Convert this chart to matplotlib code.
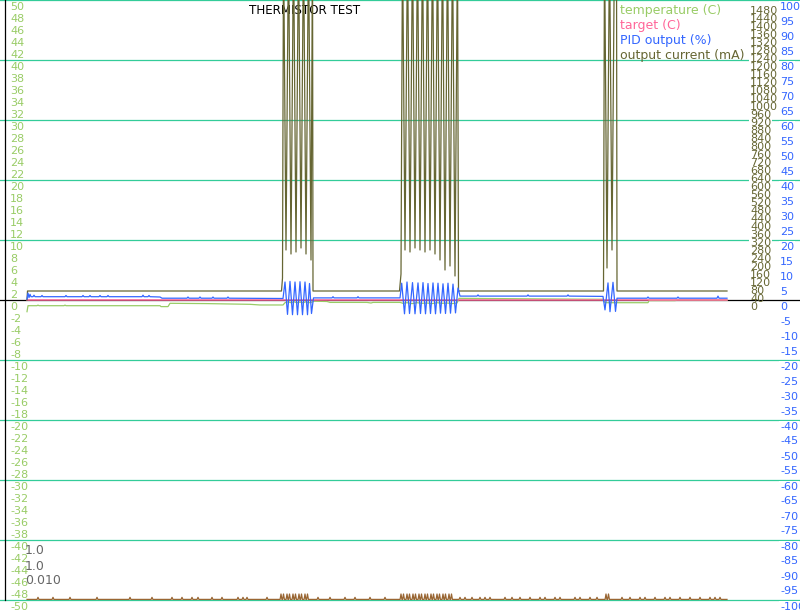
import matplotlib
matplotlib.use("Agg")
import matplotlib.pyplot as plt
import matplotlib.transforms as mtrans

# time axis: samples (0..700)
temp_t = [0, 1, 10, 11, 12, 37, 38, 39, 133, 134, 141, 143, 180, 223, 233, 256, 258, 261, 264, 267,
          270, 273, 276, 279, 282, 285, 287, 300, 303, 340, 344, 346, 373, 376, 380, 385, 390, 395,
          400, 405, 410, 415, 420, 425, 430, 432, 500, 576, 578, 621, 622, 648, 650, 700]
temp_v = [-1.95, -0.95, -0.95, -0.85, -0.95, -0.95, -0.85, -0.95, -0.95, -1.1, -1.1, -0.55, -0.6,
          -0.72, -0.83, -0.83, -0.45, -0.3, -0.45, -0.3, -0.45, -0.35, -0.45, -0.3, -0.45, -0.35,
          -0.2, -0.25, -0.4, -0.4, -0.5, -0.4, -0.4, -0.55, -0.45, -0.6, -0.45, -0.55, -0.5, -0.6,
          -0.45, -0.55, -0.5, -0.6, -0.5, 0.28, 0.2, 0.12, -0.45, -0.45, -0.1, -0.1, -0.03, -0.03]

target_t = [0, 700]
target_v = [0, 0]

pid_t = [0, 1, 2, 3, 4, 6, 7, 8, 14, 15, 16, 38, 39, 40, 55, 56, 57, 62, 63, 64, 72, 73, 74,
         80, 81, 82, 115, 116, 117, 121, 122, 123, 133, 135, 160, 161, 162, 172, 173, 174,
         185, 186, 187, 200, 201, 202,
         256, 258, 260.5, 263, 265.5, 268, 270.5, 273, 275.5, 278, 280.5, 282.5, 284.5, 286.5,
         290, 305, 306, 307, 330, 331, 332, 373,
         374.7, 377.5, 380, 382.5, 385.5, 388, 391, 393.5, 396, 398.5, 401, 403.5, 406, 408.5,
         411, 413.5, 416, 418.5, 421, 423.5, 426, 428.5, 431, 433,
         450, 451, 452, 500, 501, 502, 540, 541, 542,
         576, 578, 581, 583, 586, 588.5, 590,
         620, 621, 622, 650, 651, 652, 690, 691, 692, 700]
pid_v = [0.3, 2.3, 0.8, 1.9, 1.1, 1.1, 1.6, 1.1, 1.1, 1.5, 1.1, 1.1, 1.5, 1.1, 1.1, 1.5, 1.1,
         1.1, 1.5, 1.1, 1.1, 1.5, 1.1, 1.1, 1.5, 1.1, 1.1, 1.6, 1.1, 1.1, 1.5, 1.1, 1.0, 0.6,
         0.6, 1.0, 0.6, 0.6, 1.0, 0.6, 0.6, 1.0, 0.6, 0.6, 1.0, 0.6,
         0.5, 6.0, -4.8, 6.2, -4.9, 6.0, -4.9, 6.1, -4.9, 6.0, -4.9, 5.5, -4.5, 0.7,
         0.7, 0.7, 1.1, 0.7, 0.7, 1.1, 0.7, 0.7,
         5.6, -4.6, 6.0, -4.5, 5.8, -4.6, 5.7, -4.5, 5.8, -4.6, 5.5, -4.5, 5.7, -4.6,
         5.6, -4.4, 5.4, -4.5, 5.6, -4.4, 5.3, -4.3, 4.0, 1.3,
         1.3, 1.7, 1.3, 1.3, 1.7, 1.3, 1.3, 1.7, 1.3,
         1.2, -3.3, 5.7, -3.9, 5.9, -3.8, 0.6,
         0.6, 1.0, 0.6, 0.6, 1.0, 0.6, 0.6, 1.3, 0.6, 0.6]

cur_t = [0, 0.5, 254.5, 255.5, 256.5, 259, 261.5, 264, 266.5, 269, 271.5, 274, 276.5, 279,
         281.5, 284, 285.5, 286,
         372.5, 374, 375.5, 378, 380.5, 383, 385.5, 388, 390.5, 393, 395.5, 398, 400.5, 403,
         405.5, 408, 410.5, 413, 415.5, 418, 420.5, 423, 425.5, 428, 430.5, 431.5,
         576.5, 577.5, 580, 582.5, 585, 587.5, 589.5, 590, 700]
cur_v = [0, 45, 45, 110, 1800, 250, 1800, 230, 1800, 240, 1800, 260, 1800, 230, 1800, 200,
         1800, 45,
         45, 130, 1800, 250, 1800, 240, 1800, 260, 1800, 250, 1800, 240, 1800, 250, 1800, 230,
         1800, 200, 1800, 150, 1800, 170, 1800, 120, 1800, 45,
         45, 1800, 160, 1800, 250, 1800, 1800, 45, 45]

# small trace along the bottom
brown_base = -49.9
bump_t = [11, 26, 43, 70, 103, 125, 145, 155, 165, 171, 185, 195, 211, 216, 220, 240,
          291, 303, 318, 328, 343, 358, 433, 438, 445, 453, 458, 463, 478, 485, 493, 503,
          513, 518, 528, 533, 548, 553, 563, 570, 595, 603, 613, 618, 628, 638, 643, 653,
          663, 673, 683, 688, 693]
bump_v = [-49.55] * len(bump_t)
mpeak_t = [254, 256.5, 260, 262.5, 266, 268.5, 272, 274.5, 278, 280.5,
           374, 376.5, 380, 382.5, 386, 388.5, 392, 394.5, 398, 400.5, 404, 406.5,
           410, 412.5, 416, 418.5, 422, 424.5, 579, 581.5]
mpeak_v = [-49.0] * len(mpeak_t)

c_green = "#99cc66"
c_pink = "#ff6699"
c_blue = "#3366ff"
c_olive = "#666633"
c_grid = "#33cc99"
c_brown = "#996633"

fig = plt.figure(figsize=(8, 6.11), dpi=100)
fig.patch.set_facecolor("white")
ax = fig.add_axes([0, 0, 1, 1])
ax_cur = ax.twinx()
ax_pid = ax.twinx()
for a in (ax, ax_cur, ax_pid):
    a.set_axis_off()
ax.set_zorder(1)
ax_cur.set_zorder(2)
ax_pid.set_zorder(3)

ax.set_xlim(-27, 773)
ax.set_ylim(-50 - 11 / 6, 50)
ax_pid.set_ylim(-100 - 11 / 3, 100)
ax_cur.set_ylim(-1555, 1500)

# grid + axis lines
for v in range(-50, 51, 10):
    if v != 0:
        ax.axhline(v, color=c_grid, lw=0.9, zorder=1)
ax.axhline(0, color="black", lw=0.9, zorder=3)
ax.plot([5 / 800, 5 / 800], [-50, 50], color="black", lw=0.9, zorder=3,
        transform=mtrans.blended_transform_factory(fig.transFigure, ax.transData))


def tf(a):
    base = mtrans.blended_transform_factory(fig.transFigure, a.transData)
    return base + mtrans.ScaledTranslation(0, -1.5 / 100, fig.dpi_scale_trans)


for v in range(-50, 51, 2):
    ax.text(10 / 800, v, str(v), transform=tf(ax), color=c_green, fontsize=8,
            ha="left", va="top", zorder=4)

right_labels = [(ax_cur, 750, range(0, 1481, 40), c_olive),
                (ax_pid, 780, range(-100, 101, 5), c_blue)]
for a, xpx, vals, col in right_labels:
    for v in vals:
        ax.text(xpx / 800, v, str(v), transform=tf(a), color="none", fontsize=8,
                ha="left", va="top", zorder=2,
                bbox=dict(facecolor="white", edgecolor="none", pad=0.5))
        ax.text(xpx / 800, v, str(v), transform=tf(a), color=col, fontsize=8,
                ha="left", va="top", zorder=4)

ax.text(305 / 800, 1 - 10.5 / 611, "THERMISTOR TEST", transform=fig.transFigure,
        ha="center", va="center", fontsize=8.6, color="black", zorder=4)

legend = [("temperature (C)", c_green), ("target (C)", c_pink),
          ("PID output (%)", c_blue), ("output current (mA)", c_olive)]
for i, (txt, col) in enumerate(legend):
    ax.text(620 / 800, 1 - (10.7 + 15 * i) / 611, txt, transform=fig.transFigure,
            ha="left", va="center", fontsize=9, color=col, zorder=4)

for i, txt in enumerate(["1.0", "1.0", "0.010"]):
    ax.text(25 / 800, 1 - (551 + 15 * i) / 611, txt, transform=fig.transFigure,
            ha="left", va="center", fontsize=9, color="#666666", zorder=4)

# bottom trace
bt = [0]
bv = [brown_base]
for t, v in sorted(zip(bump_t + mpeak_t, bump_v + mpeak_v)):
    bt += [t - 0.9, t, t + 0.9]
    bv += [brown_base, v, brown_base]
bt.append(700)
bv.append(brown_base)
ax.plot(bt, bv, color=c_brown, lw=0.9, zorder=5)

ax.plot(temp_t, temp_v, color=c_green, lw=0.9, zorder=5)
ax.plot(target_t, target_v, color=c_pink, lw=1.1, zorder=6)
ax_cur.plot(cur_t, cur_v, color=c_olive, lw=0.9)
ax_pid.plot(pid_t, pid_v, color=c_blue, lw=0.9)

fig.savefig("out.png", dpi=100)
